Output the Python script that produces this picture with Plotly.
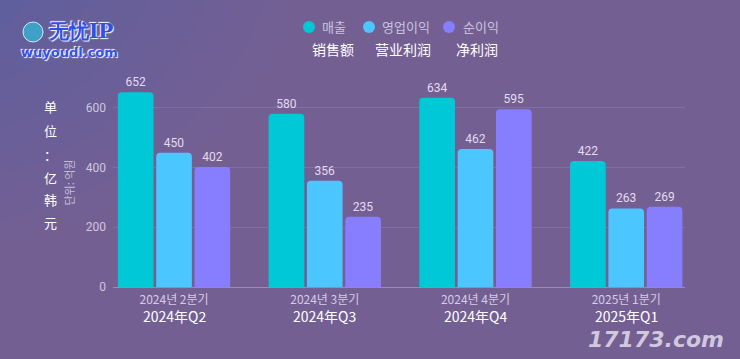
import plotly.graph_objects as go

# ---- data ----
quarters_kr = ["2024년 2분기", "2024년 3분기", "2024년 4분기", "2025년 1분기"]
quarters_cn = ["2024年Q2", "2024年Q3", "2024年Q4", "2025年Q1"]
series_kr = ["매출", "영업이익", "순이익"]
series_cn = ["销售额", "营业利润", "净利润"]
revenue = [652, 580, 634, 422]
op_profit = [450, 356, 462, 263]
net_profit = [402, 235, 595, 269]
y_ticks = [0, 200, 400, 600]

colors = ["#00C8D7", "#4CC6FF", "#877EFF"]
values = [revenue, op_profit, net_profit]

W, H = 740, 359
L, R, T, B = 113, 55, 78, 72
PW, PH = W - L - R, H - T - B


def px(x):
    return (x - L) / PW


def py(y):
    return (H - B - y) / PH


fig = go.Figure()
for name, vals, col in zip(series_kr, values, colors):
    fig.add_trace(go.Bar(
        x=list(range(len(quarters_kr))), y=vals, name=name,
        marker=dict(color=col, cornerradius=4, line=dict(width=0)),
        text=[str(v) for v in vals], textposition="outside",
        textfont=dict(size=12, color="#E2DCF0", family="Roboto"),
        cliponaxis=False, showlegend=False, hoverinfo="skip",
    ))

shapes = []
# background gradient (bluish top-left)
for i in range(14):
    r = 420 - i * 28
    shapes.append(dict(type="circle", xref="paper", yref="paper", layer="below",
                       x0=px(-120 - r), x1=px(-120 + r), y0=py(-60 + r * 0.75), y1=py(-60 - r * 0.75),
                       fillcolor="rgba(70,125,190,0.045)", line=dict(width=0)))
# legend circles
for cx, col in zip([309, 369, 449], colors):
    shapes.append(dict(type="circle", xref="paper", yref="paper",
                       x0=px(cx - 6), x1=px(cx + 6), y0=py(27 + 6), y1=py(27 - 6),
                       fillcolor=col, line=dict(width=0)))
# logo globe
shapes.append(dict(type="circle", xref="paper", yref="paper",
                   x0=px(23), x1=px(43), y0=py(42), y1=py(22),
                   fillcolor="#3FA0C8", line=dict(color="#CFE8F5", width=1)))

annotations = []
for x0, t in zip([320, 380, 461], series_kr):
    annotations.append(dict(xref="paper", yref="paper", x=px(x0), y=py(27), xanchor="left", yanchor="middle",
                            text=t, showarrow=False, font=dict(size=13, color="#CBC3DD", family="Noto Sans CJK KR")))
for cx, t in zip([333, 403, 477], series_cn):
    annotations.append(dict(xref="paper", yref="paper", x=px(cx), y=py(49), xanchor="center", yanchor="middle",
                            text=t, showarrow=False, font=dict(size=14, color="#FFFFFF", family="Noto Sans CJK SC")))
# Chinese category labels (second line under Korean ticks)
for i, t in enumerate(quarters_cn):
    annotations.append(dict(xref="x", yref="paper", x=i, y=py(316), xanchor="center", yanchor="middle",
                            text=t, showarrow=False, font=dict(size=14, color="#FFFFFF", family="Noto Sans CJK SC")))
# vertical unit label
for ch, yy in zip(["单", "位", "：", "亿", "韩", "元"], [107, 130, 154, 177, 199, 222]):
    annotations.append(dict(xref="paper", yref="paper", x=px(50), y=py(yy), xanchor="center", yanchor="middle",
                            text=ch, showarrow=False, font=dict(size=13, color="#FFFFFF", family="Noto Sans CJK SC")))
# logo text
annotations.append(dict(xref="paper", yref="paper", x=px(46), y=py(31), xanchor="left", yanchor="middle",
                        text="<b>无忧IP</b>", showarrow=False,
                        font=dict(size=20, color="#2F4FE6", family="DejaVu Serif, serif",
                                  shadow="1px 1px 1px #FFFFFF, -1px -1px 1px #FFFFFF")))
annotations.append(dict(xref="paper", yref="paper", x=px(69), y=py(52), xanchor="center", yanchor="middle",
                        text="<b>wuyoudl.com</b>", showarrow=False,
                        font=dict(size=13, color="#3550E8", family="DejaVu Sans",
                                  shadow="1px 1px 1px #FFFFFF, -1px -1px 1px #FFFFFF")))
# watermark
annotations.append(dict(xref="paper", yref="paper", x=px(656), y=py(339), xanchor="center", yanchor="middle",
                        text="<b><i>17173.com</i></b>", showarrow=False,
                        font=dict(size=22, color="rgba(225,220,238,0.85)", family="DejaVu Sans")))

fig.update_layout(
    width=W, height=H,
    margin=dict(l=L, r=R, t=T, b=B, autoexpand=False),
    paper_bgcolor="#745F93", plot_bgcolor="rgba(0,0,0,0)",
    barmode="group", bargap=0.237, bargroupgap=0.07,
    showlegend=False, hovermode=False,
    shapes=shapes, annotations=annotations,
    xaxis=dict(range=[-0.405, 3.39], tickvals=list(range(len(quarters_kr))), ticktext=quarters_kr,
               automargin=False,
               showgrid=False, zeroline=False, showline=True, linecolor="rgba(200,190,220,0.45)", linewidth=1,
               ticks="", ticklabelstandoff=2,
               tickfont=dict(size=12, color="#D4CCE4", family="Noto Sans CJK KR")),
    yaxis=dict(range=[0, 700], tickvals=y_ticks, showgrid=True, gridcolor="rgba(200,185,225,0.18)", gridwidth=1,
               automargin=False, ticklabelstandoff=6,
               zeroline=False, ticks="", tickfont=dict(size=12, color="#CFC7DF", family="Roboto"),
               title=dict(text="단위: 억원", font=dict(size=11, color="#C6BDD8", family="Noto Sans CJK KR"), standoff=8)),
)

fig.write_html("out.html", config={"displayModeBar": False},
               post_script="document.body.style.margin='0';document.body.style.background='#745F93';")
